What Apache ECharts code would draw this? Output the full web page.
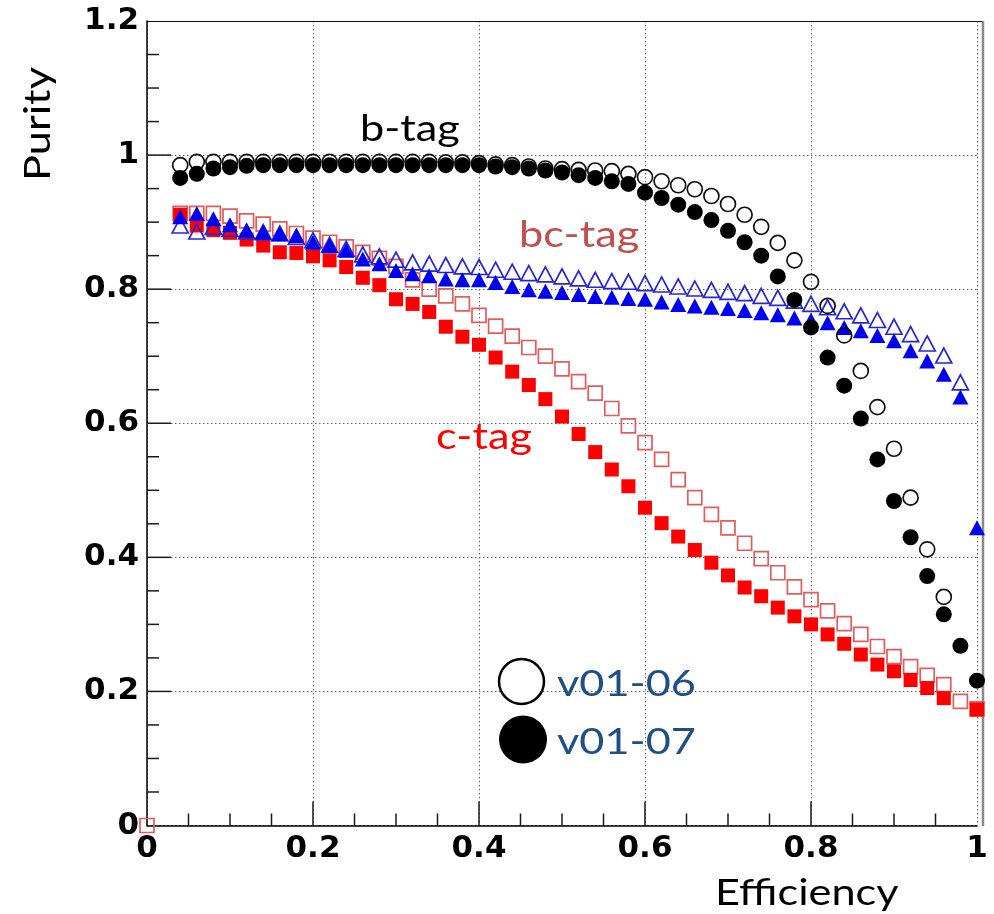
<!DOCTYPE html>
<html>
<head>
<meta charset="utf-8">
<script src="https://cdn.jsdelivr.net/npm/echarts@6/dist/echarts.min.js"></script>
<style>
  html, body { margin: 0; padding: 0; background: #ffffff; }
  #chart { width: 994px; height: 914px; }
</style>
</head>
<body>
<div id="chart"></div>
<script>
// Efficiency values at which every working point was evaluated
const effX = [0.00, 0.04, 0.06, 0.08, 0.10, 0.12, 0.14, 0.16, 0.18, 0.20, 0.22, 0.24,
  0.26, 0.28, 0.30, 0.32, 0.34, 0.36, 0.38, 0.40, 0.42, 0.44, 0.46, 0.48, 0.50,
  0.52, 0.54, 0.56, 0.58, 0.60, 0.62, 0.64, 0.66, 0.68, 0.70, 0.72, 0.74, 0.76,
  0.78, 0.80, 0.82, 0.84, 0.86, 0.88, 0.90, 0.92, 0.94, 0.96, 0.98, 1.00];

// b-tag purity
const bTag0106 = [null, 0.985, 0.990, 0.990, 0.990, 0.990, 0.990, 0.990, 0.990, 0.990, 0.990, 0.990,
  0.990, 0.990, 0.990, 0.990, 0.990, 0.989, 0.989, 0.988, 0.986, 0.985, 0.983, 0.980, 0.979,
  0.978, 0.977, 0.976, 0.972, 0.967, 0.961, 0.955, 0.949, 0.939, 0.927, 0.911, 0.893, 0.869,
  0.843, 0.811, 0.775, 0.731, 0.678, 0.624, 0.562, 0.489, 0.412, 0.341, null, null];
const bTag0107 = [null, 0.966, 0.972, 0.980, 0.982, 0.984, 0.985, 0.985, 0.985, 0.985, 0.985, 0.985,
  0.985, 0.985, 0.985, 0.985, 0.985, 0.985, 0.985, 0.985, 0.983, 0.982, 0.980, 0.977, 0.974,
  0.970, 0.966, 0.961, 0.957, 0.944, 0.936, 0.926, 0.915, 0.903, 0.887, 0.870, 0.850, 0.819,
  0.784, 0.743, 0.698, 0.656, 0.607, 0.546, 0.484, 0.430, 0.372, 0.315, 0.268, 0.216];

// bc-tag purity
const bcTag0106 = [null, 0.895, 0.886, 0.893, 0.890, 0.886, 0.885, 0.883, 0.878, 0.873, 0.866, 0.860,
  0.852, 0.849, 0.844, 0.840, 0.838, 0.836, 0.834, 0.833, 0.829, 0.826, 0.824, 0.822, 0.819,
  0.816, 0.814, 0.812, 0.811, 0.809, 0.807, 0.804, 0.801, 0.799, 0.796, 0.794, 0.790, 0.787,
  0.783, 0.778, 0.773, 0.767, 0.761, 0.754, 0.744, 0.733, 0.719, 0.701, 0.661, null];
const bcTag0107 = [null, 0.908, 0.913, 0.905, 0.896, 0.888, 0.885, 0.883, 0.880, 0.870, 0.865, 0.858,
  0.845, 0.838, 0.828, 0.823, 0.820, 0.815, 0.814, 0.814, 0.810, 0.804, 0.799, 0.797, 0.795,
  0.792, 0.789, 0.788, 0.786, 0.785, 0.781, 0.777, 0.775, 0.773, 0.771, 0.768, 0.765, 0.762,
  0.757, 0.754, 0.750, 0.743, 0.738, 0.731, 0.723, 0.708, 0.693, 0.673, 0.639, 0.444];

// c-tag purity
const cTag0106 = [0.000, 0.913, 0.913, 0.913, 0.909, 0.902, 0.897, 0.890, 0.883, 0.876, 0.870, 0.863,
  0.855, 0.846, 0.834, 0.814, 0.800, 0.790, 0.778, 0.761, 0.745, 0.730, 0.713, 0.700, 0.681,
  0.662, 0.645, 0.622, 0.596, 0.571, 0.546, 0.516, 0.489, 0.464, 0.444, 0.421, 0.398, 0.377,
  0.356, 0.337, 0.320, 0.301, 0.285, 0.267, 0.252, 0.237, 0.224, 0.210, 0.185, 0.174];
const cTag0107 = [null, 0.911, 0.895, 0.888, 0.884, 0.874, 0.865, 0.855, 0.854, 0.849, 0.843, 0.833,
  0.817, 0.806, 0.785, 0.778, 0.766, 0.744, 0.729, 0.717, 0.698, 0.677, 0.657, 0.636, 0.610,
  0.584, 0.557, 0.531, 0.506, 0.474, 0.451, 0.431, 0.411, 0.392, 0.373, 0.355, 0.342, 0.325,
  0.312, 0.300, 0.285, 0.271, 0.255, 0.240, 0.230, 0.217, 0.205, 0.190, null, 0.173];

// axis tick values (labelled every 0.2, small ticks every 0.05)
const xTicks = [0, 0.2, 0.4, 0.6, 0.8, 1];
const yTicks = [0, 0.2, 0.4, 0.6, 0.8, 1, 1.2];
const xTickMarks = [0.05, 0.1, 0.15, 0.2, 0.25, 0.3, 0.35, 0.4, 0.45, 0.5, 0.55, 0.6,
  0.65, 0.7, 0.75, 0.8, 0.85, 0.9, 0.95];
const yTickMarks = [0.05, 0.1, 0.15, 0.2, 0.25, 0.3, 0.35, 0.4, 0.45, 0.5, 0.55, 0.6,
  0.65, 0.7, 0.75, 0.8, 0.85, 0.9, 0.95, 1, 1.05, 1.1, 1.15];

function points(vals) {
  const out = [];
  effX.forEach((x, i) => { if (vals[i] !== null) out.push([x, vals[i]]); });
  return out;
}

const chart = echarts.init(document.getElementById('chart'), null, { renderer: 'canvas' });

const tagFont = 'Lato, "Open Sans", sans-serif';
const stretch = 1.17;

function openSeries(name, symbol, size, color, data) {
  return {
    name, type: 'scatter', symbol, symbolSize: size, data, z: 3,
    itemStyle: { color: 'rgba(255,255,255,0)', borderColor: color, borderWidth: 1.7, opacity: 1 },
    emphasis: { disabled: true }
  };
}
function filledSeries(name, symbol, size, color, data) {
  return {
    name, type: 'scatter', symbol, symbolSize: size, data, z: 3,
    itemStyle: { color: color, borderWidth: 0, opacity: 1 },
    emphasis: { disabled: true }
  };
}

function label(text, x, y, color, rotation) {
  return {
    type: 'text', x, y, rotation: rotation || 0,
    scaleX: stretch, scaleY: 1, silent: true,
    style: {
      text, fill: color, font: '37px ' + tagFont,
      textAlign: rotation ? 'center' : 'left', textVerticalAlign: 'middle'
    }
  };
}

function makeAxis(ticks) {
  return {
    type: 'value',
    min: ticks[0], max: ticks[ticks.length - 1], interval: 0.2,
    axisLine: { show: true, onZero: false, lineStyle: { color: '#000', width: 1.5 } },
    axisTick: { show: false },
    splitLine: { show: true, lineStyle: { color: '#666', width: 1, type: [1.5, 2.5] } },
    axisLabel: {
      show: true, color: '#000', fontFamily: '"DejaVu Sans", sans-serif', fontWeight: 'bold',
      fontSize: 31, margin: 8,
      formatter: v => String(Math.round(v * 10) / 10)
    }
  };
}

chart.setOption({
  animation: false,
  backgroundColor: '#ffffff',
  grid: { left: 147, top: 21, width: 830, height: 804.5 },
  xAxis: makeAxis(xTicks),
  yAxis: makeAxis(yTicks),
  series: [
    openSeries('c-tag v01-06', 'rect', 14, '#e25c5c', points(cTag0106)),
    filledSeries('c-tag v01-07', 'rect', 14, '#ff0000', points(cTag0107)),
    openSeries('bc-tag v01-06', 'triangle', [16, 15], '#2626d6', points(bcTag0106)),
    filledSeries('bc-tag v01-07', 'triangle', [16, 15], '#0000f0', points(bcTag0107)),
    openSeries('b-tag v01-06', 'circle', 15, '#111', points(bTag0106)),
    filledSeries('b-tag v01-07', 'circle', 16, '#000', points(bTag0107))
  ]
});

// inward tick marks as thin bars, placed with the grid's own value-to-pixel conversion
function isMajor(v) { return Math.abs(v / 0.2 - Math.round(v / 0.2)) < 1e-6; }
const origin = chart.convertToPixel({ gridIndex: 0 }, [xTicks[0], yTicks[0]]);
const corner = chart.convertToPixel({ gridIndex: 0 }, [xTicks[xTicks.length - 1], yTicks[yTicks.length - 1]]);

const tickMarks = [];
xTickMarks.forEach(v => {
  const px = chart.convertToPixel({ gridIndex: 0 }, [v, yTicks[0]])[0];
  const len = isMajor(v) ? 24 : 12;
  tickMarks.push({
    type: 'rect', silent: true, z: 100,
    shape: { x: px - 0.75, y: origin[1] - len, width: 1.5, height: len },
    style: { fill: '#1a1a1a' }
  });
});
yTickMarks.forEach(v => {
  const py = chart.convertToPixel({ gridIndex: 0 }, [xTicks[0], v])[1];
  const len = isMajor(v) ? 24 : 12;
  tickMarks.push({
    type: 'rect', silent: true, z: 100,
    shape: { x: origin[0], y: py - 0.75, width: len, height: 1.5 },
    style: { fill: '#1a1a1a' }
  });
});

chart.setOption({
  graphic: [
    // plot frame: top and right edges
    { type: 'line', silent: true, shape: { x1: origin[0], y1: corner[1] + 0.5, x2: corner[0] + 7, y2: corner[1] + 0.5 },
      style: { stroke: '#111', lineWidth: 1.2 } },
    { type: 'line', silent: true, shape: { x1: corner[0] + 6, y1: corner[1], x2: corner[0] + 6, y2: origin[1] + 0.5 },
      style: { stroke: '#8a8a8a', lineWidth: 2.5 } },
    // tag labels
    label('b-tag', 360, 129, '#000'),
    label('bc-tag', 519, 235, '#C0504D'),
    label('c-tag', 436, 437, '#FF0000'),
    // axis titles
    label('Efficiency', 715, 893, '#000'),
    label('Purity', 38, 124, '#000', Math.PI / 2),
    // version key
    { type: 'circle', silent: true, shape: { cx: 521.5, cy: 681.5, r: 22.5 },
      style: { fill: '#fff', stroke: '#000', lineWidth: 2.5 } },
    { type: 'circle', silent: true, shape: { cx: 523, cy: 739.5, r: 24 },
      style: { fill: '#000' } },
    label('v01-06', 557, 684, '#1F4E89'),
    label('v01-07', 557, 742, '#1F4E89')
  ].concat(tickMarks)
});
</script>
</body>
</html>
